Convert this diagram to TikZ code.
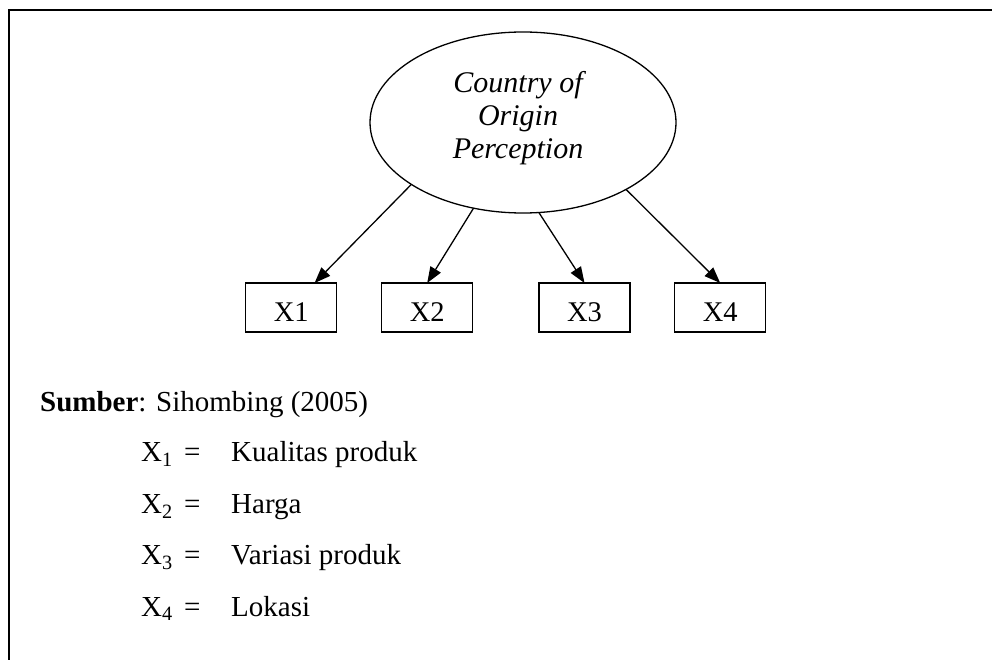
\documentclass[tikz,border=0pt]{standalone}
\usepackage{fontspec}
\setmainfont{Liberation Serif}
\usetikzlibrary{shapes.geometric,arrows.meta}

\tikzset{
  frameline/.style={line width=2pt, line cap=rect},
  latent/.style={ellipse, draw, line width=1.3pt, inner sep=0pt, outer sep=0pt,
                 minimum width=306pt, minimum height=181pt},
  latenttext/.style={align=center, font=\fontsize{30}{33}\selectfont\itshape},
  indicator/.style={rectangle, draw, line width=1.5pt, inner sep=0pt, outer sep=0pt,
                    minimum width=91pt, minimum height=49pt,
                    text height=28pt, text depth=0pt,
                    font=\fontsize{28.5}{34}\selectfont},
  loading/.style={line width=1.3pt, -{Triangle[length=16pt,width=12pt]}},
  legend/.style={anchor=base west, inner sep=0pt, font=\fontsize{29}{34}\selectfont}
}

\begin{document}
\begin{tikzpicture}[x=1pt, y=-1pt]
  \useasboundingbox (0,0) rectangle (992,660);

  % open frame: top and left edges only
  \draw[frameline] (9,660) -- (9,10) -- (992,10);

  % latent construct
  \node[latent] (cop) at (523,122.5) {};
  \node[latenttext] (coptext) at (518,118) {Country of\\Origin\\Perception};

  % indicators
  \node[indicator] (x1) at (291.2,307.5) {X1};
  \node[indicator] (x2) at (427.2,307.5) {X2};
  \node[indicator] (x3) at (584.5,307.5) {X3};
  \node[indicator] (x4) at (720.2,307.5) {X4};

  % loadings
  \draw[loading] (cop.209.7) -- ([xshift=23.4pt]x1.north);
  \draw[loading] (cop.240.7) -- (x2.north);
  \draw[loading] (cop.280.6) -- (x3.north);
  \draw[loading] (cop.327.6) -- (x4.north);

  % source and legend
  \node[legend] (src) at (40,411) {\textbf{Sumber}: Sihombing (2005)};

  \node[legend] (k1) at (141,461.7) {X\textsubscript{1}};
  \node[legend] (e1) at (184,461.7) {=};
  \node[legend] (d1) at (231,461.7) {Kualitas produk};

  \node[legend] (k2) at (141,513.2) {X\textsubscript{2}};
  \node[legend] (e2) at (184,513.2) {=};
  \node[legend] (d2) at (231,513.2) {Harga};

  \node[legend] (k3) at (141,564.7) {X\textsubscript{3}};
  \node[legend] (e3) at (184,564.7) {=};
  \node[legend] (d3) at (231,564.7) {Variasi produk};

  \node[legend] (k4) at (141,616.2) {X\textsubscript{4}};
  \node[legend] (e4) at (184,616.2) {=};
  \node[legend] (d4) at (231,616.2) {Lokasi};
\end{tikzpicture}
\end{document}
